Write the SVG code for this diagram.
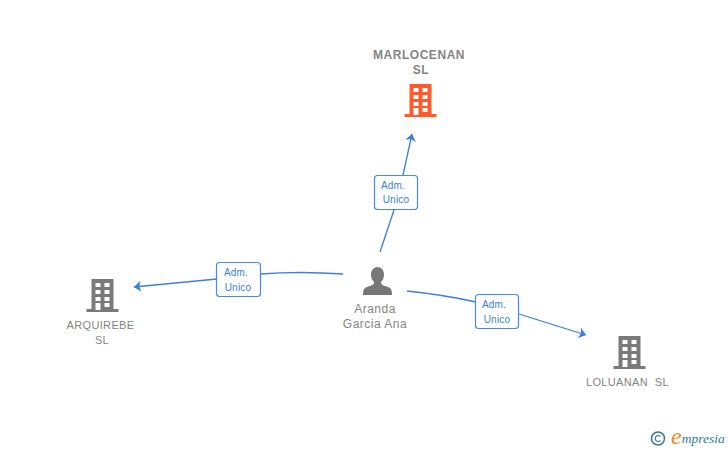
<svg xmlns="http://www.w3.org/2000/svg" width="728" height="450" viewBox="0 0 728 450">
<style>
.n{font-family:"Liberation Sans",Arial,sans-serif;font-size:11px;fill:#858585;text-anchor:middle;letter-spacing:.35px;white-space:pre}
.b{font-weight:bold;font-size:12px;letter-spacing:.55px}
.p{font-size:12px;letter-spacing:.5px}
.l{font-family:"Liberation Sans",Arial,sans-serif;font-size:10px;fill:#3b7fe0;text-anchor:middle;letter-spacing:.2px}
.c{fill:none;stroke:#3b7fe0;stroke-width:1.3}
.box{fill:#fff;stroke:#4a8ae6;stroke-width:1.2}
.w{fill:#fff}
</style>
<defs>
<marker id="a" markerWidth="10" markerHeight="12" refX="7" refY="5.500" orient="auto" markerUnits="userSpaceOnUse"><path d="M0 0L7 5.500L0 11L1.800 5.500Z" fill="#3b7fe0"/></marker>
<g id="bld">
<path d="M-11 -17H11V13H16V16H-16V13H-11Z"/>
<g class="w">
<rect x="-7" y="-13" width="5" height="4"/><rect x="2" y="-13" width="5" height="4"/>
<rect x="-7" y="-6" width="5" height="4"/><rect x="2" y="-6" width="5" height="4"/>
<rect x="-7" y="1" width="5" height="4"/><rect x="2" y="1" width="5" height="4"/>
<rect x="-7" y="7" width="5" height="7"/><rect x="2" y="7" width="5" height="4"/>
</g>
</g>
</defs>
<g id="connectors">
<path class="c" marker-end="url(#a)" d="M380 252L394 210M403 175L412 134"/>
<path class="c" marker-end="url(#a)" d="M343 274Q300 271 260 274M217 279L134 287"/>
<path class="c" marker-end="url(#a)" d="M407 291Q445 295 476 302M519 314L586 335"/>
<rect class="box" x="374.500" y="175.500" width="43" height="34" rx="3"/>
<text class="l" x="393" y="189">Adm.</text><text class="l" x="396" y="203">Unico</text>
<rect class="box" x="216.500" y="262.500" width="44" height="34" rx="3"/>
<text class="l" x="236" y="276">Adm.</text><text class="l" x="238" y="291">Unico</text>
<rect class="box" x="475.500" y="294.500" width="43" height="34" rx="3"/>
<text class="l" x="494" y="308">Adm.</text><text class="l" x="497" y="323">Unico</text>
</g>
<g id="marlocenan">
<text class="n b" x="419" y="59">MARLOCENAN</text><text class="n b" x="421" y="74">SL</text>
<use href="#bld" x="420.500" y="101" fill="#ff5a2c"/>
</g>
<g id="aranda">
<path fill="#777" d="M377 267c4.500 0 7 3.500 7 7.500c0 3-1 5.500-3 7.500c0 2 1 3 4 4c5 1 7 3 7 8v1h-29v-1c0-5 2-7 7-8c3-1 4-2 4-4c-2-2-3-4.500-3-7.500c0-4 2.500-7.500 7-7.500z"/>
<text class="n p" x="375" y="313">Aranda</text><text class="n p" x="375" y="328">Garcia Ana</text>
</g>
<g id="arquirebe">
<use href="#bld" x="102.500" y="296" fill="#7a7a7a"/>
<text class="n" x="100.500" y="329">ARQUIREBE</text><text class="n" x="102" y="344">SL</text>
</g>
<g id="loluanan">
<use href="#bld" x="629.500" y="353" fill="#7a7a7a"/>
<text class="n" x="627.500" y="386">LOLUANAN  SL</text>
</g>
<g id="logo">
<circle cx="658" cy="438.500" r="6.500" fill="none" stroke="#3c7a8c" stroke-width="1.500"/>
<path d="M660.500 436.500a3 3 0 1 0 0 4" fill="none" stroke="#3c7a8c" stroke-width="1.200"/>
<text x="671" y="444" font-family="Liberation Serif,serif" font-style="italic" font-size="13.500" fill="#2f7f8f"><tspan font-size="24" fill="#f08a1d">e</tspan><tspan dy="-1">mpresia</tspan></text>
</g>
</svg>
